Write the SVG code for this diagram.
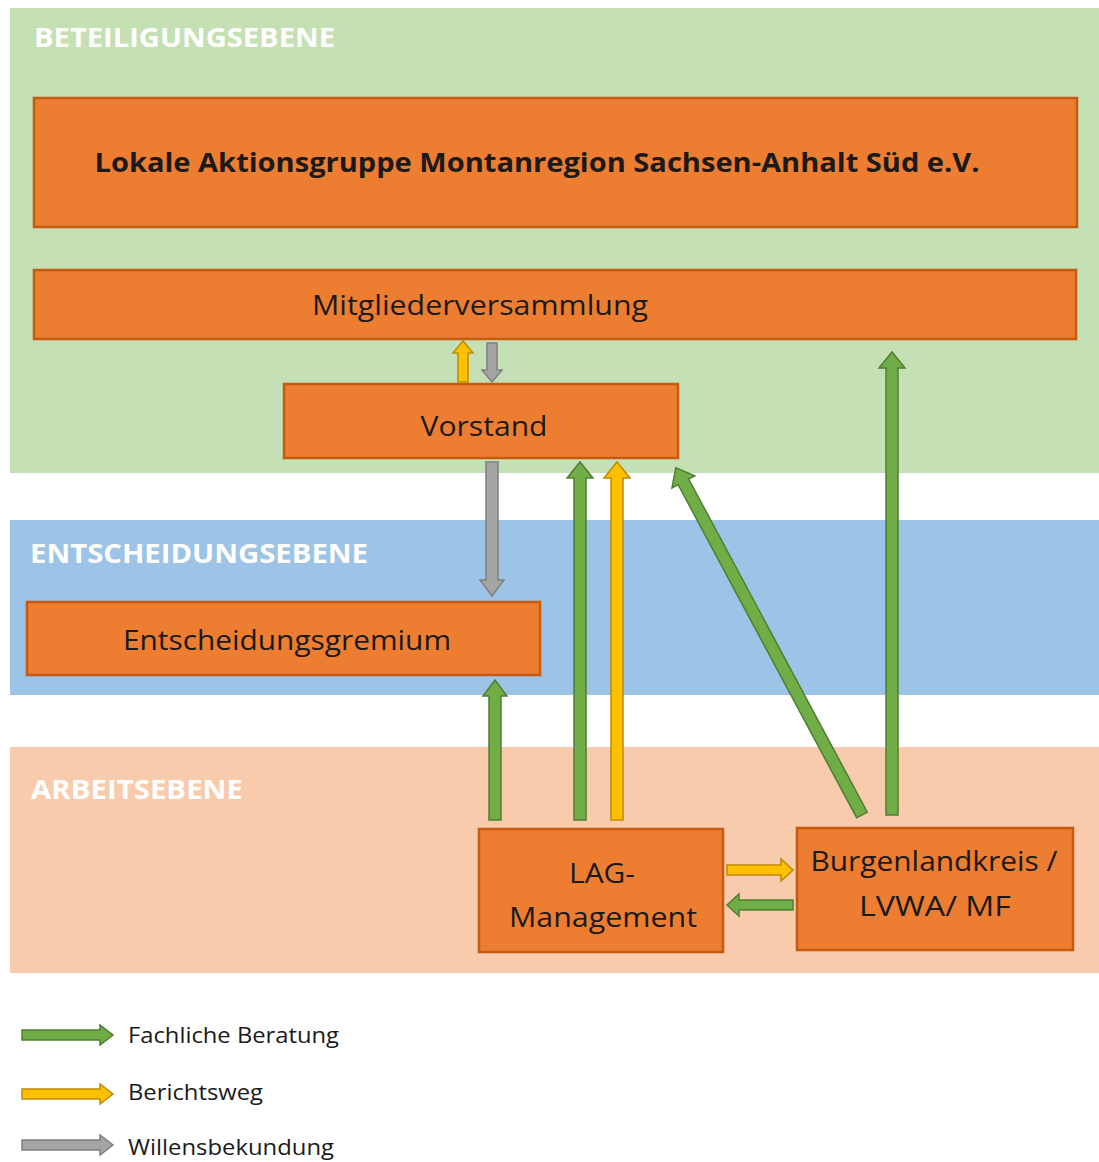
<svg xmlns="http://www.w3.org/2000/svg" width="1099" height="1162" viewBox="0 0 1099 1162">
<style>
.band{stroke:none}
.box{fill:#ed7d31;stroke:#c55a11;stroke-width:2.5}
.t{font-family:"Open Sans","Liberation Sans",sans-serif;fill:#1a1a1a;text-anchor:middle}
.bl{font-family:"Open Sans","Liberation Sans",sans-serif;fill:#ffffff;font-weight:bold;font-size:26px}
.lg{font-family:"Open Sans","Liberation Sans",sans-serif;fill:#1a1a1a;font-size:22px}
.g{fill:#70ad47;stroke:#507e32;stroke-width:1.5}
.y{fill:#ffc000;stroke:#bc8c00;stroke-width:1.5}
.s{fill:#a5a5a5;stroke:#7f7f7f;stroke-width:1.5}
</style>
<rect width="1099" height="1162" fill="#ffffff"/>
<g id="bands">
<rect class="band" x="10" y="8" width="1089" height="465" fill="#c5e0b4"/>
<rect class="band" x="10" y="520" width="1089" height="175" fill="#9dc3e6"/>
<rect class="band" x="10" y="747" width="1089" height="226" fill="#f8cbad"/>
<text class="bl" x="34" y="47" textLength="301" lengthAdjust="spacingAndGlyphs">BETEILIGUNGSEBENE</text>
<text class="bl" x="30" y="563" textLength="338" lengthAdjust="spacingAndGlyphs">ENTSCHEIDUNGSEBENE</text>
<text class="bl" x="31" y="799" textLength="212" lengthAdjust="spacingAndGlyphs">ARBEITSEBENE</text>
</g>
<g id="lag">
<rect class="box" x="34" y="98" width="1043" height="129"/>
<text class="t" x="537" y="172" font-size="27" font-weight="bold" textLength="885" lengthAdjust="spacingAndGlyphs">Lokale Aktionsgruppe Montanregion Sachsen-Anhalt Süd e.V.</text>
</g>
<g id="mitglieder">
<rect class="box" x="34" y="270" width="1042" height="69"/>
<text class="t" x="480" y="315" font-size="28" textLength="336" lengthAdjust="spacingAndGlyphs">Mitgliederversammlung</text>
</g>
<g id="vorstand">
<rect class="box" x="284" y="384" width="394" height="74"/>
<text class="t" x="484" y="436" font-size="28" textLength="127" lengthAdjust="spacingAndGlyphs">Vorstand</text>
</g>
<g id="gremium">
<rect class="box" x="27" y="602" width="513" height="73"/>
<text class="t" x="287" y="650" font-size="28" textLength="328" lengthAdjust="spacingAndGlyphs">Entscheidungsgremium</text>
</g>
<g id="management">
<rect class="box" x="479" y="829" width="244" height="123"/>
<text class="t" x="602" y="883" font-size="28" textLength="66" lengthAdjust="spacingAndGlyphs">LAG-</text>
<text class="t" x="603" y="927" font-size="28" textLength="188" lengthAdjust="spacingAndGlyphs">Management</text>
</g>
<g id="burgenlandkreis">
<rect class="box" x="797" y="828" width="276" height="122"/>
<text class="t" x="934" y="871" font-size="28" textLength="247" lengthAdjust="spacingAndGlyphs">Burgenlandkreis /</text>
<text class="t" x="935" y="916" font-size="28" textLength="152" lengthAdjust="spacingAndGlyphs">LVWA/ MF</text>
</g>
<g id="connectors">
<!-- small arrows between Mitgliederversammlung and Vorstand -->
<polygon class="y" points="458,382 458,353 453,353 463,341 473,353 468,353 468,382"/>
<polygon class="s" points="487,343 487,370 482,370 492,382 502,370 497,370 497,343"/>
<!-- Vorstand to Entscheidungsgremium (gray) -->
<polygon class="s" points="486,462 486,580 480,580 492,596 504,580 498,580 498,462"/>
<!-- LAG-Management to Entscheidungsgremium -->
<polygon class="g" points="489,820 489,696 483,696 495,680 507,696 501,696 501,820"/>
<!-- LAG-Management to Vorstand -->
<polygon class="g" points="574,820 574,478 567,478 580,462 593,478 586,478 586,820"/>
<polygon class="y" points="611,820 611,478 604,478 617,462 630,478 623,478 623,820"/>
<!-- Burgenlandkreis to Vorstand (diagonal) -->
<polygon class="g" transform="translate(862,815) rotate(-28.2)" points="-6,0 -6,-378 -13,-378 0,-394 13,-378 6,-378 6,0"/>
<!-- Burgenlandkreis to Mitgliederversammlung -->
<polygon class="g" points="886,815 886,368 879,368 892,352 905,368 898,368 898,815"/>
<!-- horizontal between management and Burgenlandkreis -->
<polygon class="y" points="727,865 781,865 781,859 793,870 781,881 781,875 727,875"/>
<polygon class="g" points="793,900 739,900 739,894 727,905 739,916 739,910 793,910"/>
</g>
<g id="legend">
<polygon class="g" points="22,1030 100,1030 100,1025 113,1035 100,1045 100,1040 22,1040"/>
<text class="lg" x="128" y="1043" textLength="211" lengthAdjust="spacingAndGlyphs">Fachliche Beratung</text>
<polygon class="y" points="22,1089 100,1089 100,1084 113,1094 100,1104 100,1099 22,1099"/>
<text class="lg" x="128" y="1100" textLength="135" lengthAdjust="spacingAndGlyphs">Berichtsweg</text>
<polygon class="s" points="22,1140 100,1140 100,1135 113,1145 100,1155 100,1150 22,1150"/>
<text class="lg" x="128" y="1155" textLength="206" lengthAdjust="spacingAndGlyphs">Willensbekundung</text>
</g>
</svg>
